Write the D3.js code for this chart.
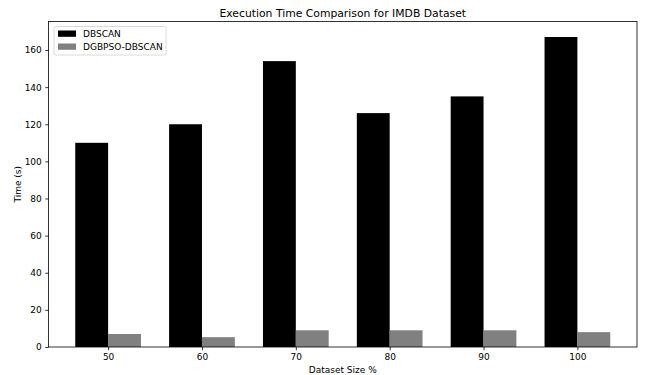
<!DOCTYPE html>
<html>
<head>
<meta charset="utf-8">
<script src="https://cdn.jsdelivr.net/npm/d3@7"></script>
<style>
  html, body { margin: 0; padding: 0; background: #fff; }
  svg { display: block; font-family: "DejaVu Sans", sans-serif; }
</style>
</head>
<body>
<svg id="chart" width="646" height="375"></svg>
<script>
// Dataset sizes (percent) and measured execution times in seconds
const categories = ["50", "60", "70", "80", "90", "100"];
const dbscanTimes = [110, 120, 154, 126, 135, 167];
const dgbpsoTimes = [7, 5.3, 9, 9, 9, 8];
const yTicks = [0, 20, 40, 60, 80, 100, 120, 140, 160];
const seriesNames = ["DBSCAN", "DGBPSO-DBSCAN"];
const seriesColors = ["#000000", "#808080"];

const svg = d3.select("#chart");
const plot = { left: 48.5, right: 637, top: 21.5, bottom: 347 };
const barWidth = 0.35;

// Category index positions with a 5% margin around the bar extents
const xMin = -barWidth, xMax = categories.length - 1 + barWidth;
const xPad = (xMax - xMin) * 0.05;
const x = d3.scaleLinear()
  .domain([xMin - xPad, xMax + xPad])
  .range([plot.left, plot.right]);

const yMax = d3.max(dbscanTimes) * 1.05;
const y = d3.scaleLinear()
  .domain([0, yMax])
  .range([plot.bottom, plot.top]);

// Bars: DBSCAN to the left of each tick, DGBPSO-DBSCAN to the right
const series = [dbscanTimes, dgbpsoTimes];
series.forEach((vals, s) => {
  svg.append("g").selectAll("rect")
    .data(vals)
    .join("rect")
    .attr("x", (d, i) => x(i + (s === 0 ? -barWidth : 0)))
    .attr("width", x(barWidth) - x(0))
    .attr("y", d => y(d))
    .attr("height", d => y(0) - y(d))
    .attr("fill", seriesColors[s]);
});

// Axes
const xAxis = d3.axisBottom(x)
  .tickValues(categories.map((c, i) => i))
  .tickFormat(i => categories[i])
  .tickSize(3.2).tickPadding(3.5);
const yAxis = d3.axisLeft(y)
  .tickValues(yTicks)
  .tickSize(3.2).tickPadding(3.5);

const gx = svg.append("g")
  .attr("transform", `translate(0,${plot.bottom})`)
  .call(xAxis);
const gy = svg.append("g")
  .attr("transform", `translate(${plot.left},0)`)
  .call(yAxis);
[gx, gy].forEach(g => {
  g.select(".domain").remove();
  g.selectAll(".tick line").attr("stroke", "#000").attr("stroke-width", 0.8);
  g.selectAll(".tick text")
    .attr("fill", "#000")
    .style("font-family", "DejaVu Sans")
    .style("font-size", "9px");
});

// Frame around the plot area
svg.append("rect")
  .attr("x", plot.left).attr("y", plot.top)
  .attr("width", plot.right - plot.left)
  .attr("height", plot.bottom - plot.top)
  .attr("fill", "none")
  .attr("stroke", "#000")
  .attr("stroke-width", 0.8);

// Title and axis labels
svg.append("text")
  .attr("x", (plot.left + plot.right) / 2).attr("y", 16.5)
  .attr("text-anchor", "middle")
  .style("font-size", "10.8px")
  .text("Execution Time Comparison for IMDB Dataset");

svg.append("text")
  .attr("x", (plot.left + plot.right) / 2).attr("y", 372.5)
  .attr("text-anchor", "middle")
  .style("font-size", "9px")
  .text("Dataset Size %");

svg.append("text")
  .attr("transform", `translate(21,${(plot.top + plot.bottom) / 2}) rotate(-90)`)
  .attr("text-anchor", "middle")
  .style("font-size", "9px")
  .text("Time (s)");

// Legend
const legend = svg.append("g").attr("transform", "translate(54,26.5)");
legend.append("rect")
  .attr("width", 112).attr("height", 28.5)
  .attr("rx", 2)
  .attr("fill", "#fff").attr("fill-opacity", 0.8)
  .attr("stroke", "#d0d0d0").attr("stroke-width", 0.8);
seriesNames.forEach((name, i) => {
  const row = legend.append("g").attr("transform", `translate(4,${4 + i * 13})`);
  row.append("rect")
    .attr("width", 18).attr("height", 6.3)
    .attr("fill", seriesColors[i]);
  row.append("text")
    .attr("x", 25).attr("y", 6.5)
    .style("font-size", "9px")
    .text(name);
});
</script>
</body>
</html>
